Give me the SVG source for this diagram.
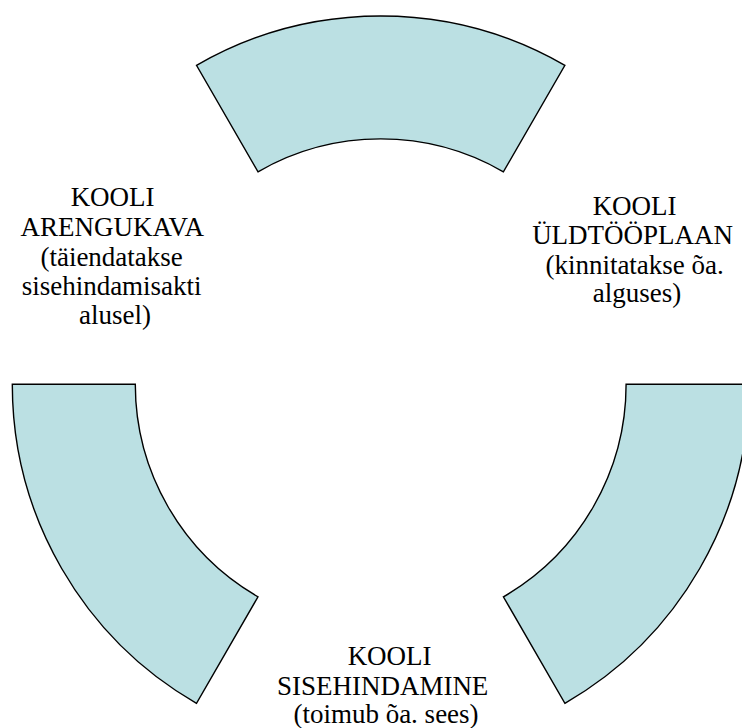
<svg xmlns="http://www.w3.org/2000/svg" width="742" height="728" viewBox="0 0 742 728">
  <style>
    .seg { fill: #BBE0E3; stroke: #000000; stroke-width: 1.4; stroke-linejoin: miter; }
    .lbl { font-family: 'Liberation Serif', 'Times New Roman', serif; font-size: 27px; fill: #000000; text-anchor: middle; }
  </style>
  <rect x="0" y="0" width="742" height="728" fill="#FFFFFF"/>
  <g id="segment-top">
    <path class="seg" d="M196.5,65.3 A368.4,368.4 0 0 1 564.9,65.3 L503.4,171.8 A245.4,245.4 0 0 0 258.0,171.8 Z"/>
  </g>
  <g id="segment-left">
    <path class="seg" d="M12.3,384.3 L135.3,384.3 A245.4,245.4 0 0 0 258.0,596.8 L196.5,703.3 A368.4,368.4 0 0 1 12.3,384.3 Z"/>
  </g>
  <g id="segment-right">
    <path class="seg" d="M626.1,384.3 L749.1,384.3 A368.4,368.4 0 0 1 564.9,703.3 L503.4,596.8 A245.4,245.4 0 0 0 626.1,384.3 Z"/>
  </g>
  <g id="node-arengukava">
    <text class="lbl">
      <tspan x="116" y="206">KOOLI</tspan>
      <tspan x="115" y="236">ARENGUKAVA</tspan>
      <tspan x="115" y="265.5">(täiendatakse</tspan>
      <tspan x="115" y="295">sisehindamisakti</tspan>
      <tspan x="115" y="324">alusel)</tspan>
    </text>
  </g>
  <g id="node-yldtooplaan">
    <text class="lbl">
      <tspan x="638" y="214.5">KOOLI</tspan>
      <tspan x="636" y="244">ÜLDTÖÖPLAAN</tspan>
      <tspan x="638" y="273.5">(kinnitatakse õa.</tspan>
      <tspan x="637" y="302">alguses)</tspan>
    </text>
  </g>
  <g id="node-sisehindamine">
    <text class="lbl">
      <tspan x="393" y="665">KOOLI</tspan>
      <tspan x="386" y="694.5">SISEHINDAMINE</tspan>
      <tspan x="386" y="723">(toimub õa. sees)</tspan>
    </text>
  </g>
</svg>
